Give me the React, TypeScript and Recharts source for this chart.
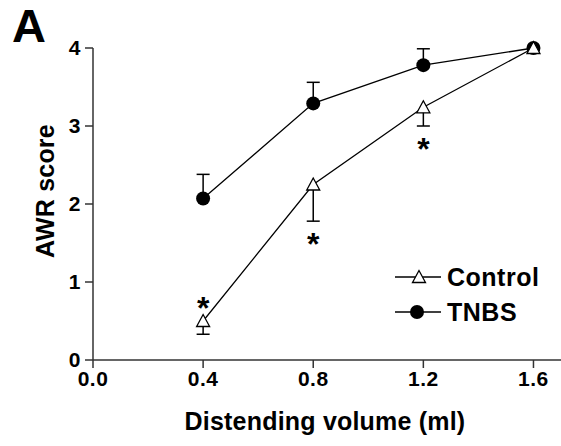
import React from "react";
import {
  ComposedChart,
  Line,
  XAxis,
  YAxis,
  ReferenceLine,
  ReferenceDot,
} from "recharts";

// Distending volume (ml)
const volumes = [0.4, 0.8, 1.2, 1.6];
// AWR score, mean and SEM
const controlScore = [0.5, 2.25, 3.24, 4.0];
const controlSem = [0.17, 0.47, 0.24, 0];
const tnbsScore = [2.07, 3.29, 3.78, 4.0];
const tnbsSem = [0.31, 0.27, 0.21, 0];
// where the significance star goes for the control series
const controlStar = ["above", "below", "below", ""];

const xTicks = [0, 0.4, 0.8, 1.2, 1.6];
const yTicks = [0, 1, 2, 3, 4];

const data = volumes.map((v, i) => ({
  volume: v,
  control: controlScore[i],
  tnbs: tnbsScore[i],
}));

const FONT = '"Liberation Sans", Arial, sans-serif';
const AXIS_COLOR = "#333";
const tickStyle = {
  fill: "#000",
  fontSize: 21,
  fontWeight: "bold",
  fontFamily: FONT,
  letterSpacing: 0.5,
};

const Triangle = ({ cx, cy }: any) => {
  if (cx == null || cy == null) return null;
  return (
    <polygon
      points={`${cx},${cy - 6.5} ${cx - 6.5},${cy + 5.5} ${cx + 6.5},${cy + 5.5}`}
      fill="#fff"
      stroke="#000"
      strokeWidth={1.3}
    />
  );
};

const Circle = ({ cx, cy }: any) => {
  if (cx == null || cy == null) return null;
  return <circle cx={cx} cy={cy} r={7} fill="#000" />;
};

const Cap = ({ cx, cy }: any) => (
  <line x1={cx - 6.5} x2={cx + 6.5} y1={cy} y2={cy} stroke="#000" strokeWidth={1.5} />
);

const Star = (offset: number) => ({ cx, cy }: any) => (
  <text
    x={cx}
    y={cy + offset + 17}
    textAnchor="middle"
    fontFamily={FONT}
    fontWeight="bold"
    fontSize={32}
    fill="#000"
  >
    *
  </text>
);

const legendRows = [
  { name: "Control", marker: <Triangle cx={24} cy={17} /> },
  { name: "TNBS", marker: <Circle cx={22} cy={17} /> },
];

export default function App() {
  return (
    <div style={{ position: "absolute", left: 0, top: 0, width: 561, height: 446, background: "#fff" }}>
      <div
        style={{
          position: "absolute",
          left: 12,
          top: 2,
          fontFamily: FONT,
          fontWeight: "bold",
          fontSize: 47,
          lineHeight: "47px",
        }}
      >
        A
      </div>
      <ComposedChart
        width={561}
        height={446}
        data={data}
        margin={{ top: 48, right: 0, left: 33, bottom: 16 }}
      >
        <XAxis
          dataKey="volume"
          type="number"
          domain={[0, 1.7]}
          ticks={xTicks}
          tickFormatter={(v) => Number(v).toFixed(1)}
          height={70}
          tickSize={8}
          tickMargin={3}
          stroke={AXIS_COLOR}
          strokeWidth={1.5}
          tick={tickStyle}
          label={(p: any) => (
            <text
              x={p.viewBox.x + p.viewBox.width / 2 - 2}
              y={p.viewBox.y + 70}
              textAnchor="middle"
              fontFamily={FONT}
              fontWeight="bold"
              fontSize={25}
              letterSpacing={0.2}
              fill="#000"
            >
              Distending volume (ml)
            </text>
          )}
        />
        <YAxis
          type="number"
          domain={[0, 4]}
          ticks={yTicks}
          width={60}
          tickSize={8}
          tickMargin={4}
          stroke={AXIS_COLOR}
          strokeWidth={1.5}
          tick={tickStyle}
          label={(p: any) => {
            const x = p.viewBox.x + 12;
            const y = p.viewBox.y + p.viewBox.height / 2 - 13;
            return (
              <text
                x={x}
                y={y}
                transform={`rotate(-90, ${x}, ${y})`}
                textAnchor="middle"
                dominantBaseline="central"
                fontFamily={FONT}
                fontWeight="bold"
                fontSize={25}
                letterSpacing={0.2}
                fill="#000"
              >
                AWR score
              </text>
            );
          }}
        />

        {/* error bars: TNBS upward, Control downward */}
        {volumes.map((v, i) =>
          tnbsSem[i] > 0 ? (
            <ReferenceLine
              key={`ts${i}`}
              segment={[
                { x: v, y: tnbsScore[i] },
                { x: v, y: tnbsScore[i] + tnbsSem[i] },
              ]}
              stroke="#000"
              strokeWidth={1.5}
            />
          ) : null
        )}
        {volumes.map((v, i) =>
          tnbsSem[i] > 0 ? (
            <ReferenceDot key={`tc${i}`} x={v} y={tnbsScore[i] + tnbsSem[i]} shape={Cap} />
          ) : null
        )}
        {volumes.map((v, i) =>
          controlSem[i] > 0 ? (
            <ReferenceLine
              key={`cs${i}`}
              segment={[
                { x: v, y: controlScore[i] },
                { x: v, y: controlScore[i] - controlSem[i] },
              ]}
              stroke="#000"
              strokeWidth={1.5}
            />
          ) : null
        )}
        {volumes.map((v, i) =>
          controlSem[i] > 0 ? (
            <ReferenceDot key={`cc${i}`} x={v} y={controlScore[i] - controlSem[i]} shape={Cap} />
          ) : null
        )}
        {volumes.map((v, i) =>
          controlStar[i] === "above" ? (
            <ReferenceDot key={`st${i}`} x={v} y={controlScore[i]} shape={Star(-19)} />
          ) : controlStar[i] === "below" ? (
            <ReferenceDot
              key={`st${i}`}
              x={v}
              y={controlScore[i] - controlSem[i]}
              shape={Star(17)}
            />
          ) : null
        )}

        <Line
          dataKey="tnbs"
          name="TNBS"
          stroke="#000"
          strokeWidth={1.3}
          dot={<Circle />}
          activeDot={false}
          isAnimationActive={false}
        />
        <Line
          dataKey="control"
          name="Control"
          stroke="#000"
          strokeWidth={1.3}
          dot={<Triangle />}
          activeDot={false}
          isAnimationActive={false}
        />
      </ComposedChart>
      <div
        style={{
          position: "absolute",
          left: 395,
          top: 259,
          fontFamily: FONT,
          fontWeight: "bold",
          fontSize: 25,
          letterSpacing: 0.5,
        }}
      >
        {legendRows.map((r) => (
          <div key={r.name} style={{ display: "flex", alignItems: "center", height: 35 }}>
            <svg width={52} height={34}>
              <line x1={0} x2={46} y1={17} y2={17} stroke="#000" strokeWidth={1.3} />
              {r.marker}
            </svg>
            <span style={{ lineHeight: "34px" }}>{r.name}</span>
          </div>
        ))}
      </div>
    </div>
  );
}
